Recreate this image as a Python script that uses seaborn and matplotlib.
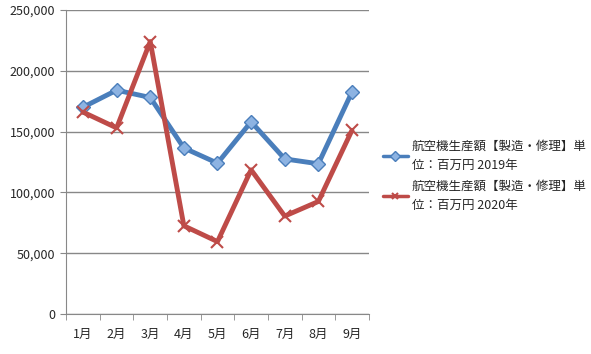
import numpy as np
import pandas as pd
import matplotlib.pyplot as plt
import seaborn as sns

# データ
months = ['1月', '2月', '3月', '4月', '5月', '6月', '7月', '8月', '9月']
values_2019 = [170000, 184000, 178000, 136500, 124000, 158000, 127500, 123500, 182500]
values_2020 = [166000, 153000, 224000, 72500, 59500, 118500, 80500, 92500, 151000]
label_2019 = '航空機生産額【製造・修理】単\n位：百万円 2019年'
label_2020 = '航空機生産額【製造・修理】単\n位：百万円 2020年'

pos = list(range(len(months)))

sns.set_style('white')
plt.rcParams['font.family'] = ['Noto Sans CJK JP', 'DejaVu Sans']

fig = plt.figure(figsize=(5.91, 3.54), dpi=100)
ax = fig.add_axes([0.112, 0.113, 0.512, 0.859])

sns.lineplot(x=pos, y=values_2019, color='#4A7EBB', linewidth=3.5,
             marker='D', markersize=7, markerfacecolor='#8DB3E2',
             markeredgecolor='#4A7EBB', markeredgewidth=1, label=label_2019, ax=ax)
sns.lineplot(x=pos, y=values_2020, color='#BE4B48', linewidth=3.5,
             marker='x', markersize=8, markeredgewidth=1.5,
             markeredgecolor='#BE4B48', label=label_2020, ax=ax)

ax.set_xlim(-0.5, len(months) - 0.5)
ax.set_ylim(0, 250000)
ax.set_yticks(np.arange(0, 250001, 50000))
ax.set_yticklabels([f'{v:,}' for v in range(0, 250001, 50000)], fontsize=9)
ax.set_xticks(pos)
ax.set_xticklabels(months, fontsize=9)
ax.tick_params(axis='x', length=0, pad=10)
ax.set_xticks(np.arange(-0.5, len(months)), minor=True)
ax.tick_params(axis='x', which='minor', length=4, color='#888888', direction='out', bottom=True)
ax.tick_params(axis='y', length=4, color='#888888', direction='out', left=True, pad=4)
ax.set_xlabel('')
ax.set_ylabel('')
ax.grid(axis='y', color='#888888', linewidth=1)
ax.set_axisbelow(True)
for side in ['top', 'right']:
    ax.spines[side].set_visible(False)
ax.spines['left'].set_color('#888888')
ax.spines['bottom'].set_color('#888888')

handles, labels = ax.get_legend_handles_labels()
leg = ax.legend(handles, labels, loc='upper left', bbox_to_anchor=(1.03, 0.59),
                frameon=False, fontsize=9, handlelength=2.0, labelspacing=0.6,
                borderaxespad=0, handletextpad=0.3)
for t in leg.get_texts():
    t.set_linespacing(1.65)
for line in leg.get_lines():
    line.set_linewidth(2.5)
    line.set_markersize(5)

fig.savefig('out.png', dpi=100)
